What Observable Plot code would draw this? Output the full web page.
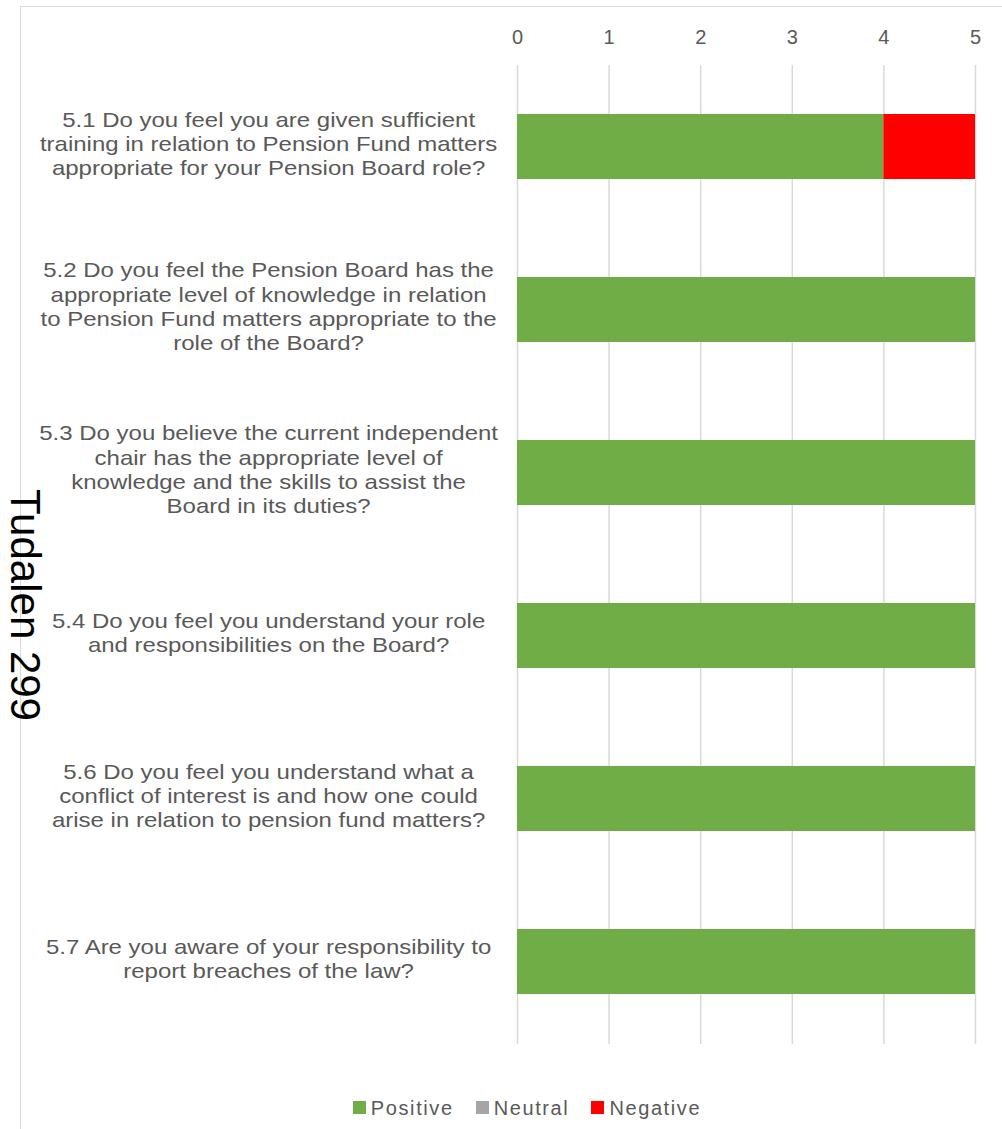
<!DOCTYPE html>
<html>
<head>
<meta charset="utf-8">
<script src="https://cdn.jsdelivr.net/npm/d3@7"></script>
<script src="https://cdn.jsdelivr.net/npm/@observablehq/plot@0.6"></script>
<style>
  html, body { margin: 0; padding: 0; background: #fff; }
  body { width: 1002px; height: 1129px; position: relative; overflow: hidden; font-family: "Liberation Sans", Arial, sans-serif; }
  #frame { position: absolute; left: 20px; top: 6px; width: 1000px; height: 1200px; border: 1.5px solid #d9d9d9; box-sizing: border-box; }
  #chart { position: absolute; left: 0; top: 0; }
  #side { position: absolute; left: 25px; top: 605px; transform: translate(-50%, -50%) rotate(90deg); font-size: 42px; color: #000; white-space: nowrap; }
  #legend { position: absolute; top: 1097px; left: 0; width: 1054px; text-align: center; font-size: 20px; color: #595959; letter-spacing: 1.6px; }
  #legend span.item { margin: 0 11px; }
  #legend span.sw { display: inline-block; width: 13px; height: 13px; margin-right: 5px; vertical-align: 1px; }
</style>
</head>
<body>
<div id="frame"></div>
<div id="chart"></div>
<div id="side">Tudalen 299</div>
<div id="legend"></div>
<script>
const questions = [
  "5.1 Do you feel you are given sufficient\ntraining in relation to Pension Fund matters\nappropriate for your Pension Board role?",
  "5.2 Do you feel the Pension Board has the\nappropriate level of knowledge in relation\nto Pension Fund matters appropriate to the\nrole of the Board?",
  "5.3 Do you believe the current independent\nchair has the appropriate level of\nknowledge and the skills to assist the\nBoard in its duties?",
  "5.4 Do you feel you understand your role\nand responsibilities on the Board?",
  "5.6 Do you feel you understand what a\nconflict of interest is and how one could\narise in relation to pension fund matters?",
  "5.7 Are you aware of your responsibility to\nreport breaches of the law?"
];
const positive = [4, 5, 5, 5, 5, 5];
const neutral  = [0, 0, 0, 0, 0, 0];
const negative = [1, 0, 0, 0, 0, 0];
const seriesNames = ["Positive", "Neutral", "Negative"];
const seriesColors = ["#70ad47", "#a5a5a5", "#ff0000"];
const xTicks = [0, 1, 2, 3, 4, 5];

const rows = [];
questions.forEach((q, i) => {
  rows.push({q, type: "Positive", value: positive[i]});
  rows.push({q, type: "Neutral", value: neutral[i]});
  rows.push({q, type: "Negative", value: negative[i]});
});

const labelCenter = 268;

const plot = Plot.plot({
  width: 1002,
  height: 1060,
  marginLeft: 517,
  marginRight: 27,
  marginTop: 65,
  marginBottom: 16,
  style: { fontFamily: "'Liberation Sans', Arial, sans-serif", fontSize: "20px", color: "#595959", background: "transparent" },
  x: { domain: [0, 5], ticks: xTicks, label: null },
  y: { domain: questions, paddingInner: 0.6, paddingOuter: 0.3, axis: null },
  color: { domain: seriesNames, range: seriesColors },
  marks: [
    Plot.gridX(xTicks, { stroke: "#d9d9d9", strokeOpacity: 1, strokeWidth: 1.5 }),
    Plot.axisX(xTicks, { anchor: "top", tickSize: 0, tickPadding: 22, fontSize: 20, fill: "#595959", label: null }),
    Plot.barX(rows, Plot.stackX({ x: "value", y: "q", fill: "type", order: seriesNames })),
    Plot.text(questions, { x: 0, y: d => d, text: d => d, dx: labelCenter - 517, dy: -4, textAnchor: "middle", lineHeight: 1.21, fontSize: 20, fill: "#595959" })
  ]
});
// widen the question labels horizontally around their centre, as in the original
d3.select(plot).selectAll('g[aria-label="text"]').each(function() {
  const old = this.getAttribute("transform") || "";
  this.setAttribute("transform", `translate(${labelCenter},0) scale(1.2,1) translate(${-labelCenter},0) ${old}`);
});
document.getElementById("chart").appendChild(plot);

const legend = document.getElementById("legend");
seriesNames.forEach((n, i) => {
  const item = document.createElement("span");
  item.className = "item";
  const sw = document.createElement("span");
  sw.className = "sw";
  sw.style.background = seriesColors[i];
  item.appendChild(sw);
  item.appendChild(document.createTextNode(n));
  legend.appendChild(item);
});
</script>
</body>
</html>
